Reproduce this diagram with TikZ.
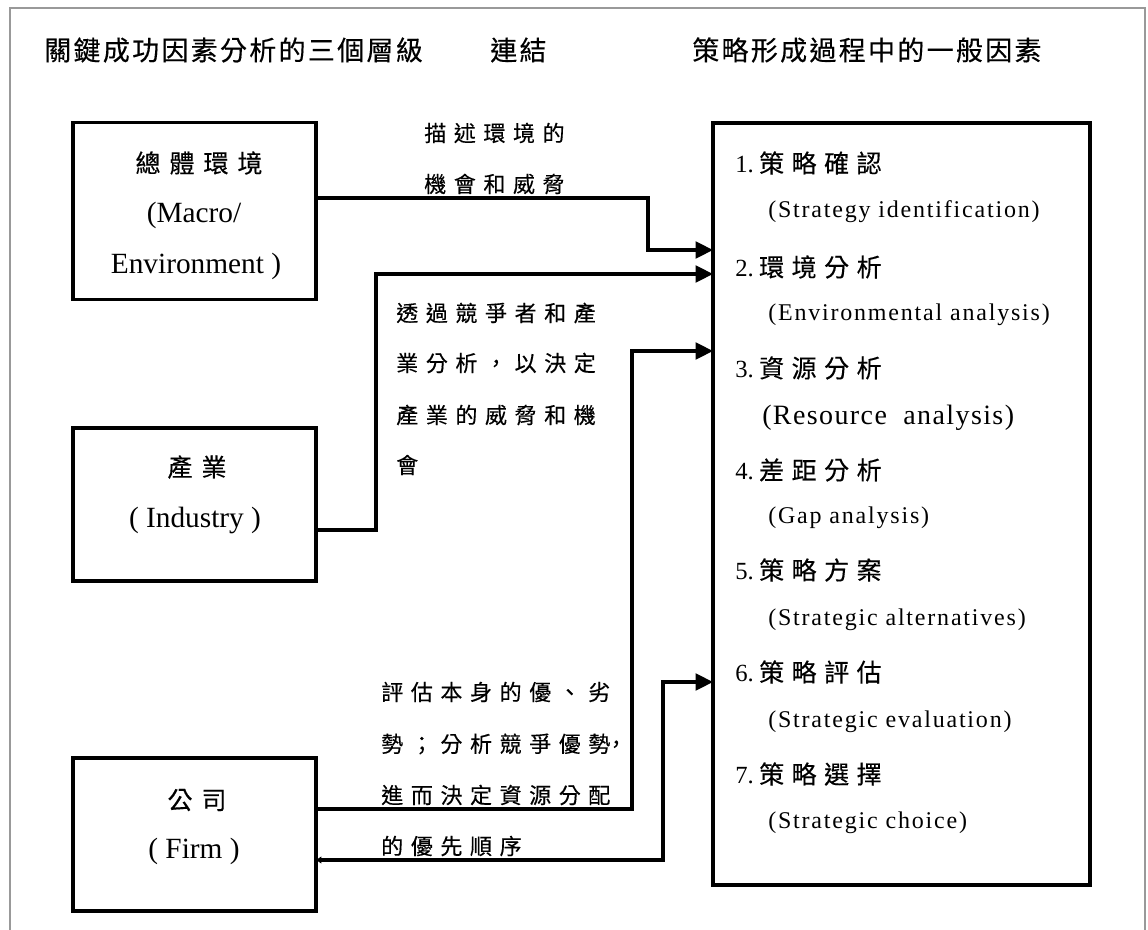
\documentclass[tikz,border=0pt]{standalone}
\usepackage{fontspec}
\setmainfont{Liberation Serif}
\newfontfamily\cjkT[LetterSpace=8.5,FakeBold=0.35]{Noto Sans CJK TC}
\newfontfamily\cjkB[LetterSpace=36,FakeBold=0.35]{Noto Sans CJK TC}
\newfontfamily\cjkR[LetterSpace=30,FakeBold=0.35]{Noto Sans CJK TC}
\newfontfamily\cjkM[LetterSpace=34.5,FakeBold=0.35]{Noto Sans CJK TC}
\newfontfamily\enR[LetterSpace=7.5]{Liberation Serif}
\newfontfamily\enRB[LetterSpace=5]{Liberation Serif}
\usetikzlibrary{arrows.meta}
\newcommand{\FacItem}[2]{{\fontsize{18.5}{20}\selectfont #1}\hspace{4pt}{\cjkR\fontsize{18.75}{20}\selectfont #2}}
\tikzset{
  box/.style={draw, line width=2.3pt, inner sep=0pt, outer sep=0pt},
  conn/.style={line width=2.3pt},
  tip/.style={-{Triangle[length=13pt,width=12.5pt]}},
  ttl/.style={font=\cjkT\fontsize{20.25}{22}\selectfont, anchor=west, inner sep=0pt},
  bcjk/.style={font=\cjkB\fontsize{18.75}{20}\selectfont, inner sep=0pt},
  ben/.style={font=\fontsize{22}{24}\selectfont, inner sep=0pt},
  mid/.style={font=\cjkM\fontsize{16.5}{18}\selectfont, anchor=west, inner sep=0pt},
  fac/.style={anchor=west, inner sep=0pt},
  facen/.style={font=\enR\fontsize{18}{20}\selectfont, anchor=west, inner sep=0pt},
}
\begin{document}
\begin{tikzpicture}[x=0.75pt, y=-0.75pt]
\useasboundingbox (0,0) rectangle (1148,930);
% frame
\draw[black!40, line width=1.4pt] (10,930) -- (10,8) -- (1145,8) -- (1145,930);
% titles
\node[ttl] (t1) at (44,50) {關鍵成功因素分析的三個層級};
\node[ttl] (t2) at (490,50) {連結};
\node[ttl] (t3) at (692,50) {策略形成過程中的一般因素};
% left boxes
\node[box, minimum width=182.25pt, minimum height=133pt] (macro) at (194.5,211) {};
\node[box, minimum width=182.25pt, minimum height=114.75pt] (industry) at (194.5,504.5) {};
\node[box, minimum width=182.25pt, minimum height=114.75pt] (firm) at (194.5,834.5) {};
\node[bcjk] (macroC) at (199,163) {總體環境};
\node[ben] (macroE1) at (194,215) {(Macro/};
\node[ben] (macroE2) at (196,266) {Environment )};
\node[bcjk] (industryC) at (197,467) {產業};
\node[ben] (industryE) at (195,520) {( Industry )};
\node[bcjk] (firmC) at (197,800) {公司};
\node[ben] (firmE) at (194,851) {( Firm )};
% right box
\node[box, minimum width=282.75pt, minimum height=571.5pt] (factors) at (901.5,504) {};
\node[fac] (f1) at (735,163) {\FacItem{1.}{策略確認}};
\node[facen] (f1e) at (768,212) {(Strategy identification)};
\node[fac] (f2) at (735,267) {\FacItem{2.}{環境分析}};
\node[facen] (f2e) at (768,315) {(Environmental analysis)};
\node[fac] (f3) at (735,368) {\FacItem{3.}{資源分析}};
\node[anchor=west, inner sep=0pt, font=\enRB\fontsize{21}{24}\selectfont] (f3e) at (762,418) {(Resource\hspace{6pt} analysis)};
\node[fac] (f4) at (735,470) {\FacItem{4.}{差距分析}};
\node[facen] (f4e) at (768,518) {(Gap analysis)};
\node[fac] (f5) at (735,570) {\FacItem{5.}{策略方案}};
\node[facen] (f5e) at (768,620) {(Strategic alternatives)};
\node[fac] (f6) at (735,672) {\FacItem{6.}{策略評估}};
\node[facen] (f6e) at (768,722) {(Strategic evaluation)};
\node[fac] (f7) at (735,774) {\FacItem{7.}{策略選擇}};
\node[facen] (f7e) at (768,823) {(Strategic choice)};
% middle labels
\node[mid] (m1a) at (424,133) {描述環境的};
\node[mid] (m1b) at (424,184) {機會和威脅};
\node[mid] (m2a) at (396,313) {透過競爭者和產};
\node[mid] (m2b) at (396,363) {業分析，以決定};
\node[mid] (m2c) at (396,415) {產業的威脅和機};
\node[mid] (m2d) at (396,465) {會};
\node[mid] (m3a) at (381,692) {評估本身的優、劣};
\node[mid] (m3b) at (381,744) {勢；分析競爭優勢\kern-4pt，};
\node[mid] (m3c) at (381,795) {進而決定資源分配};
\node[mid] (m3d) at (381,846) {的優先順序};
% connectors
\draw[conn, tip] (macro.east |- 0,198) -| (648,250) -- (factors.west |- 0,250);
\draw[conn, tip] (industry.east |- 0,530) -| (376,274) -- (factors.west |- 0,274);
\draw[conn, tip] (firm.east |- 0,809) -| (632,351) -- (factors.west |- 0,351);
\draw[conn, {Triangle[length=4pt,width=5pt]}-{Triangle[length=13pt,width=12.5pt]}] (firm.east |- 0,860) -| (663,682) -- (factors.west |- 0,682);
\end{tikzpicture}
\end{document}
